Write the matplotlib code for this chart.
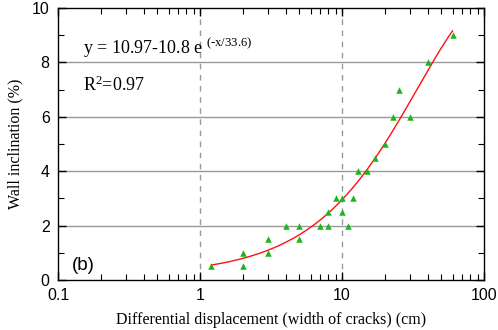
import numpy as np
import matplotlib
matplotlib.use("Agg")
import matplotlib.pyplot as plt
from matplotlib.ticker import LogLocator, NullFormatter, MultipleLocator, FixedLocator, FixedFormatter

# Data
disp = [1.2, 2, 2, 3, 3, 4, 5, 5, 7, 8, 8, 9, 10, 10, 11, 12, 13, 15, 17, 20, 23, 25, 30, 40, 60]
incl = [0.5, 1.0, 0.5, 1.5, 1.0, 2.0, 2.0, 1.5, 2.0, 2.0, 2.5, 3.0, 3.0, 2.5, 2.0, 3.0, 4.0, 4.0, 4.5, 5.0, 6.0, 7.0, 6.0, 8.0, 9.0]
fit_a, fit_b, fit_c = 10.97, 10.8, 33.6
fit_range = (1.2, 60)
xtick_vals = [0.1, 1, 10, 100]
xtick_labels = ["0.1", "1", "10", "100"]

sans = "Liberation Sans"
serif = "Liberation Serif"
plt.rcParams["mathtext.fontset"] = "custom"
plt.rcParams["mathtext.rm"] = serif
plt.rcParams["mathtext.it"] = serif + ":italic"
plt.rcParams["mathtext.bf"] = serif + ":bold"

fig = plt.figure(figsize=(4.98, 3.30), dpi=100)
ax = fig.add_axes([0.1165, 0.1515, 0.972 - 0.1165, 0.9758 - 0.1515])

ax.set_xscale("log")
ax.set_xlim(0.1, 100)
ax.set_ylim(0, 10)

for yv in [2, 4, 6, 8]:
    ax.axhline(yv, color="#999999", lw=1.0, zorder=1)
for xv in [1, 10]:
    ax.axvline(xv, color="#999999", lw=1.0, ls=(0, (4, 4)), zorder=1)

xf = np.logspace(np.log10(fit_range[0]), np.log10(fit_range[1]), 200)
yf = fit_a - fit_b * np.exp(-xf / fit_c)
ax.plot(xf, yf, color="#ff1010", lw=1.0, zorder=3)
ax.scatter(disp, incl, marker="^", s=22, color="#1db41d", zorder=4, linewidths=0)

ax.xaxis.set_major_locator(FixedLocator(xtick_vals))
ax.xaxis.set_major_formatter(FixedFormatter(xtick_labels))
ax.xaxis.set_minor_locator(LogLocator(base=10, subs=np.arange(2, 10)))
ax.xaxis.set_minor_formatter(NullFormatter())
ax.yaxis.set_major_locator(MultipleLocator(2))
ax.yaxis.set_minor_locator(MultipleLocator(1))

ax.tick_params(which="both", direction="in", top=True, right=True, labelsize=11.5, pad=6)
ax.tick_params(which="major", length=6, width=1)
ax.tick_params(which="minor", length=4, width=0.8)
for lab in ax.get_xticklabels() + ax.get_yticklabels():
    lab.set_fontfamily(sans)
for sp in ax.spines.values():
    sp.set_linewidth(1.0)

ax.set_xlabel("Differential displacement (width of cracks) (cm)", family=serif, fontsize=11.5, labelpad=6)
ax.set_ylabel("Wall inclination (%)", family=serif, fontsize=11.5, labelpad=6)

ax.text(0.15, 8.3, r"y = 10.97-10.8 e $^{\text{(-x/33.6)}}$", family=serif, fontsize=13)
ax.text(0.15, 6.95, r"R$^{\mathrm{2}}$=0.97", family=serif, fontsize=13)
ax.text(0.125, 0.35, "(b)", family=sans, fontsize=13.5)

fig.savefig("out.png", dpi=100)
